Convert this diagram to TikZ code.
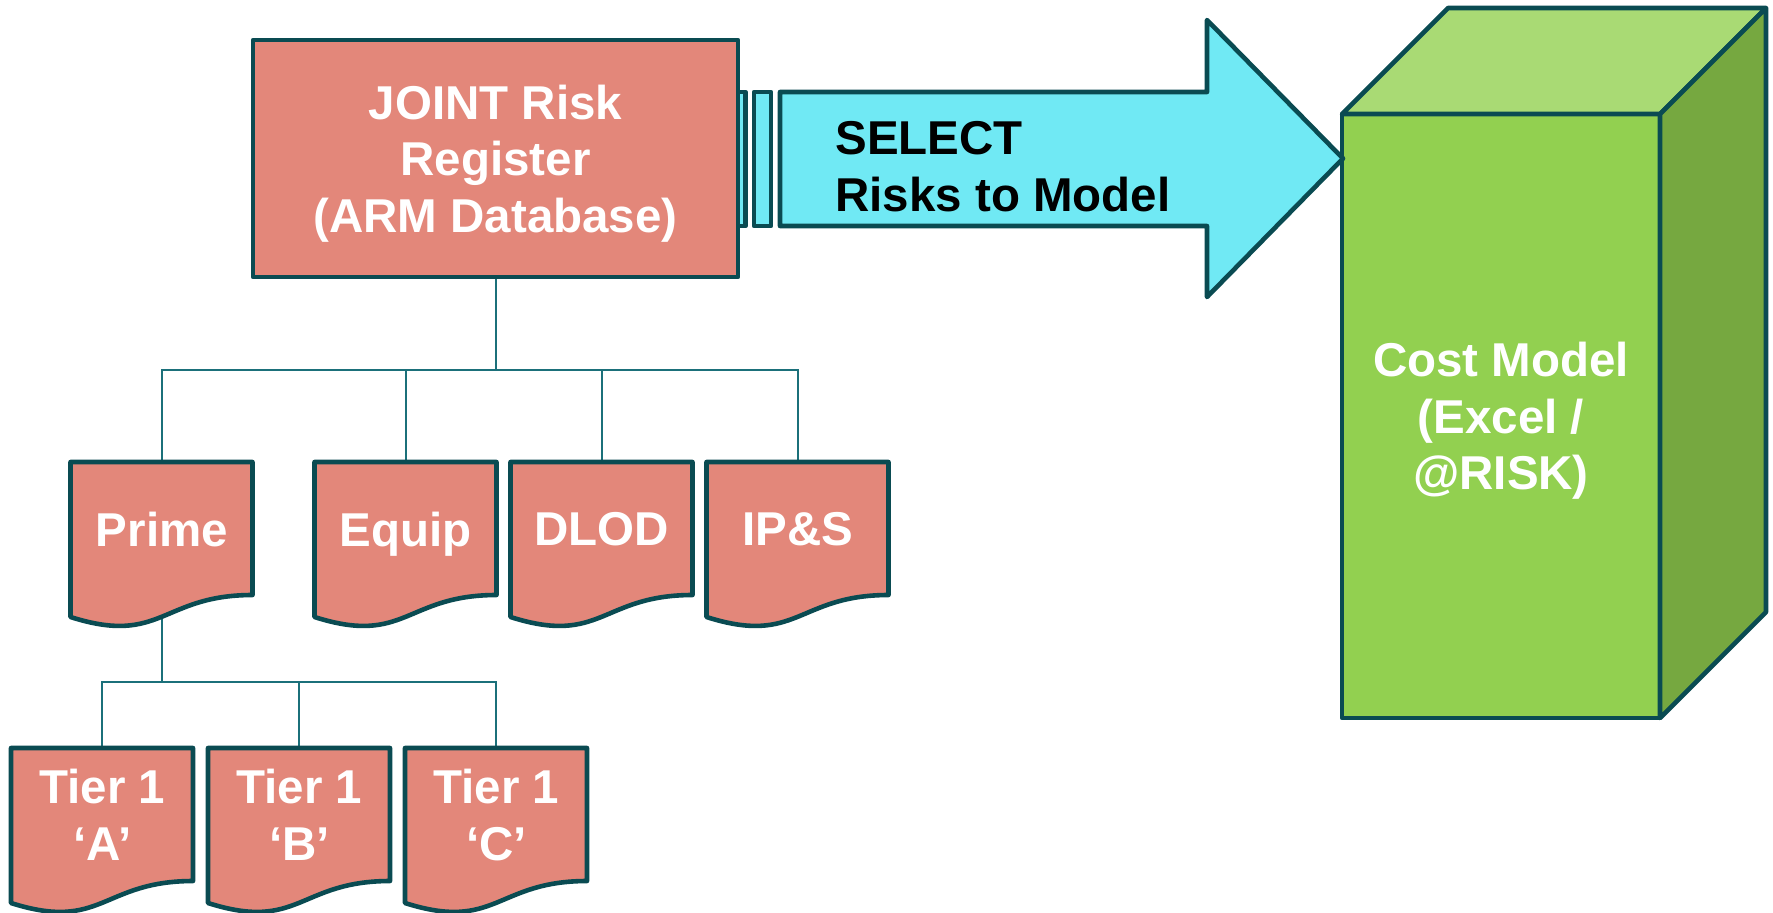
\documentclass[tikz,border=0pt]{standalone}
\usepackage{fontspec}
\setmainfont{Liberation Sans}
\usetikzlibrary{positioning,calc,backgrounds}

\definecolor{salmon}{HTML}{E3877A}
\definecolor{edgeteal}{HTML}{0A4B52}
\definecolor{wireteal}{HTML}{1B707A}
\definecolor{arrowcyan}{HTML}{70E9F4}
\definecolor{cubefront}{HTML}{92D050}
\definecolor{cubetop}{HTML}{A9DA74}
\definecolor{cubeside}{HTML}{76A840}

\tikzset{
  outl/.style={draw=edgeteal, line width=2.3pt, line join=round},
  wire/.style={draw=wireteal, line width=1pt},
  lbl/.style={font=\bfseries\fontsize{23.75}{28.25}\selectfont, text=white,
    align=center, inner sep=0pt, text depth=0pt},
}

% document box: name, top left corner, text
\newcommand{\riskdoc}[3]{%
  \begin{scope}[shift={(#2)}]
    \filldraw[outl, fill=salmon] (0,0) -- (182,0) -- (182,133)
      .. controls (91,133) and (91,184) .. (0,155) -- cycle;
  \end{scope}
  \node[lbl, minimum width=91pt, minimum height=66.5pt, anchor=north west] (#1) at (#2) {#3};
}

\begin{document}
\begin{tikzpicture}[x=0.5pt, y=-0.5pt]
    \useasboundingbox (0,0) rectangle (1773,912);
    % cube
    \node[outl, lbl, fill=cubefront, outer sep=0pt, minimum width=159pt, minimum height=302pt]
      (cost) at (1501,416) {Cost Model\\(Excel /\\@RISK)};
    \filldraw[outl, fill=cubetop] (cost.north west) -- ++(106,-106) -- ++(318,0) -- (cost.north east) -- cycle;
    \filldraw[outl, fill=cubeside] (cost.north east) -- ++(106,-106) -- ++(0,604) -- (cost.south east) -- cycle;
    % striped arrow
    \filldraw[outl, fill=arrowcyan] (730,92) rectangle (745.5,226);
    \filldraw[outl, fill=arrowcyan] (754,92) rectangle (771,226);
    \filldraw[outl, fill=arrowcyan] (780,92) -- (1207,92) -- (1207,20) -- (1343,158.5)
      -- (1207,297) -- (1207,226) -- (780,226) -- cycle;
    \node[lbl, text=black, align=left, anchor=west] (sel) at (835,166.5) {SELECT\\Risks to Model};
    %
    \node[outl, lbl, fill=salmon, minimum width=242.5pt, minimum height=118.5pt]
      (jrr) at (495.5,158.5) {JOINT Risk\\Register\\(ARM Database)};
    \riskdoc{prime}{70.5,462}{Prime}
    \riskdoc{equip}{314.5,462}{Equip}
    \riskdoc{dlod}{510.5,462}{DLOD}
    \riskdoc{ips}{706.5,462}{IP\&S}
    \riskdoc{tiera}{11,748}{Tier 1\\‘A’}
    \riskdoc{tierb}{208,748}{Tier 1\\‘B’}
    \riskdoc{tierc}{405,748}{Tier 1\\‘C’}
    % tree lines
    \coordinate (bus) at (0,370);
    \coordinate (subbus) at (0,682);
    \begin{scope}[on background layer]
      \foreach \n in {prime,equip,dlod,ips}
        \draw[wire] (jrr.south) -- (jrr.south |- bus) -| (\n.north);
      \foreach \n in {tiera,tierb,tierc}
        \draw[wire] (prime.south) -- (prime.south |- subbus) -| (\n.north);
    \end{scope}
  \end{tikzpicture}
\end{document}
